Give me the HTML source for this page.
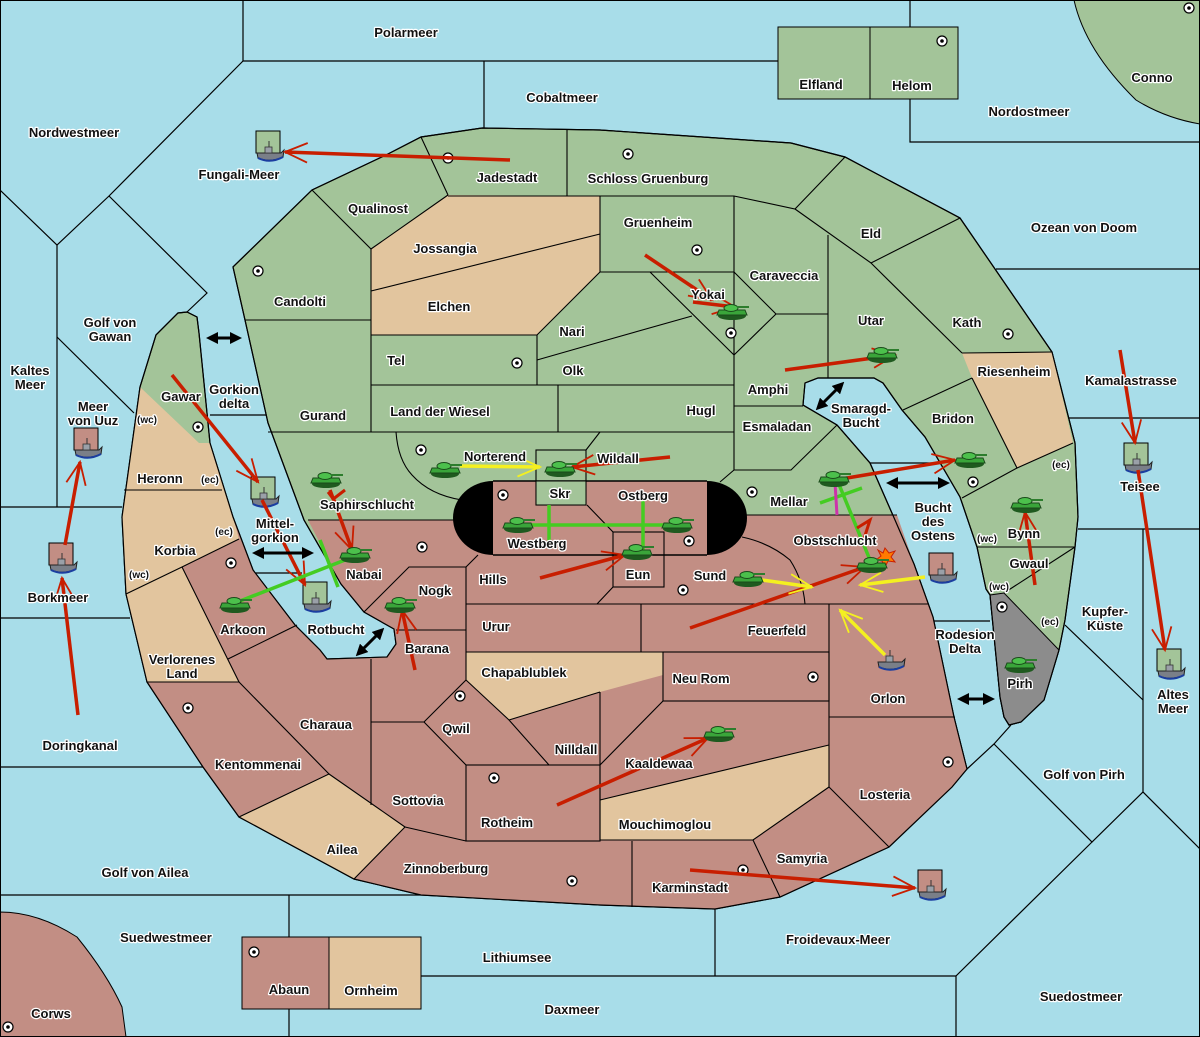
<!DOCTYPE html>
<html><head><meta charset="utf-8"><style>
html,body{margin:0;padding:0;background:#a8dde9;}
svg{display:block}
text{font-family:"Liberation Sans",sans-serif;font-weight:bold;font-size:13px;fill:#111;text-anchor:middle;paint-order:stroke;stroke:#fff;stroke-width:2.5px;stroke-linejoin:round}
text.s{font-size:10px}
</style></head><body>
<svg width="1200" height="1037" viewBox="0 0 1200 1037" xmlns="http://www.w3.org/2000/svg">
<defs>
<marker id="ar" viewBox="0 0 20 20" refX="18" refY="10" markerWidth="14" markerHeight="14" orient="auto" markerUnits="userSpaceOnUse" overflow="visible">
<path d="M-14,-4 L18,10 L-14,24" fill="none" stroke="#c81e00" stroke-width="2.6"/></marker>
<marker id="ay" viewBox="0 0 20 20" refX="18" refY="10" markerWidth="14" markerHeight="14" orient="auto" markerUnits="userSpaceOnUse" overflow="visible">
<path d="M-14,-4 L18,10 L-14,24" fill="none" stroke="#f4f020" stroke-width="2.6"/></marker>
<marker id="ab" viewBox="0 0 10 10" refX="5" refY="5" markerWidth="12" markerHeight="12" orient="auto-start-reverse" markerUnits="userSpaceOnUse"><path d="M0,0 L10,5 L0,10z" fill="#000"/></marker>
<g id="tk"><ellipse cx="0" cy="5" rx="14" ry="4" fill="#1f5a1f"/><path d="M-13,-1 L13,-1 L15,4 L-15,4z" fill="#3aa53a" stroke="#1a4a1a" stroke-width="1"/><ellipse cx="-1" cy="-3" rx="7" ry="3.5" fill="#4cc04c" stroke="#1a4a1a" stroke-width="1"/><rect x="5" y="-5" width="12" height="2" fill="#2d7d2d"/></g>
<g id="fl"><path d="M-13,0 L11,0 L14,-3 L13,4 Q0,10 -12,5z" fill="#7a7f88" stroke="#222" stroke-width="1"/><rect x="-5" y="-6" width="7" height="6" fill="#9aa0a8" stroke="#333" stroke-width="0.8"/><line x1="-1" y1="-12" x2="-1" y2="-6" stroke="#333"/><path d="M-12,5 Q0,11 13,4" stroke="#1b3ea0" stroke-width="2" fill="none"/></g>
<g id="sc"><circle r="5" fill="#fff" stroke="#000" stroke-width="1.2"/><circle r="1.8" fill="#000"/></g>
</defs>

<path d="M1074,0 Q1085,50 1136,100 Q1165,118 1200,124 L1200,0z" fill="#a3c499" stroke="#000"/>
<path d="M0,912 Q38,912 77,937 Q107,974 122,1007 L126,1037 L0,1037z" fill="#c28e84" stroke="#000"/>
<rect x="778" y="27" width="92" height="72" fill="#a3c499" stroke="#000"/>
<rect x="870" y="27" width="88" height="72" fill="#a3c499" stroke="#000"/>
<rect x="242" y="937" width="87" height="72" fill="#c28e84" stroke="#000"/>
<rect x="329" y="937" width="92" height="72" fill="#e2c59e" stroke="#000"/>

<g stroke="#000" stroke-width="1.2" fill="none">
<polyline points="243,0 243,61 778,61"/>
<line x1="910" y1="0" x2="910" y2="27"/><polyline points="910,99 910,142 1200,142"/>
<line x1="484" y1="61" x2="484" y2="128"/>
<polyline points="243,61 109,196 57,245 0,190"/>
<polyline points="57,245 57,507"/><polyline points="109,196 207,293 187,312"/>
<line x1="57" y1="337" x2="134" y2="413"/><line x1="0" y1="507" x2="122" y2="507"/>
<line x1="996" y1="269" x2="1200" y2="269"/><line x1="1068" y1="418" x2="1200" y2="418"/>
<line x1="1078" y1="529" x2="1200" y2="529"/><line x1="1143" y1="529" x2="1143" y2="792"/>
<line x1="1065" y1="625" x2="1143" y2="700"/>
<polyline points="1011,725 994,744 967,769"/>
<polyline points="994,744 1092,842 1143,792 1200,849"/>
<polyline points="1092,842 956,976 956,1037"/>
<line x1="600" y1="976" x2="956" y2="976"/><line x1="715" y1="909" x2="715" y2="976"/>
<line x1="0" y1="618" x2="130" y2="618"/><line x1="0" y1="767" x2="203" y2="767"/>
<line x1="0" y1="895" x2="421" y2="895"/>
<line x1="289" y1="895" x2="289" y2="937"/><line x1="289" y1="1009" x2="289" y2="1037"/>
<line x1="421" y1="976" x2="600" y2="976"/>
<line x1="210" y1="415" x2="266" y2="415"/><line x1="254" y1="573" x2="302" y2="573"/>
<line x1="870" y1="463" x2="960" y2="463"/><line x1="933" y1="621" x2="990" y2="621"/>
</g>

<path d="M140,387 L122,517 L126,594 L147,682 L203,767 L239,817 L354,879 L421,895 L600,905 L715,909 L780,897 L889,847 L952,787 L967,769 L954,717 L933,617 L914,564 L895,520 L870,463 L837,425 L803,405 L805,383 L818,378 L874,378 L883,383 L902,410 L925,437 L960,497 L977,547 L986,589 L990,595 L1000,697 L1004,717 L1009,725 L1021,722 L1044,700 L1059,650 L1065,620 L1075,547 L1078,517 L1075,443 L1052,352 L960,218 L845,157 L791,143 L600,130 L482,128 L421,137 L386,155 L312,190 L233,267 L245,320 L268,423 L304,520 L341,584 L364,612 L394,629 L396,644 L387,657 L327,659 L320,650 L295,625 L253,570 L233,517 L210,443 L199,333 L197,317 L187,312 L178,313 L156,335z" fill="#a3c499" stroke="#000" stroke-width="1.2"/>

<path d="M125,545 L185,540 L233,517 L253,570 L295,625 L320,650 L327,659 L387,657 L396,644 L394,629 L364,612 L341,584 L308,520 L745,520 L745,515 L897,515 L914,564 L933,617 L954,717 L967,769 L952,787 L889,847 L780,897 L715,909 L600,905 L421,895 L354,879 L239,817 L203,767 L147,682 L126,594z" fill="#c28e84"/>
<rect x="493" y="481" width="214" height="74" fill="#c28e84"/>
<g fill="#e2c59e">
<path d="M140,387 L199,443 L210,443 L233,517 L239,539 L182,567 L239,682 L147,682 L126,594 L122,517z"/>
<path d="M239,817 L329,774 L405,827 L354,879z"/>
<path d="M466,652 L663,652 L663,675 L600,692 L509,720 L466,680z"/>
<path d="M600,800 L829,745 L829,787 L753,840 L600,840z"/>
<path d="M962,353 L1052,352 L1073,443 L1017,468 L972,378z"/>
<path d="M371,249 L448,195 L600,196 L600,272 L537,335 L371,335z"/>
</g>
<path d="M990,595 L1004,593 L1059,650 L1044,700 L1021,722 L1009,725 L1004,717 L1000,697z" fill="#8c8c8c" stroke="#000"/>
<path d="M140,387 L122,517 L126,594 L147,682 L203,767 L239,817 L354,879 L421,895 L600,905 L715,909 L780,897 L889,847 L952,787 L967,769 L954,717 L933,617 L914,564 L895,520 L870,463 L837,425 L803,405 L805,383 L818,378 L874,378 L883,383 L902,410 L925,437 L960,497 L977,547 L986,589 L990,595 L1000,697 L1004,717 L1009,725 L1021,722 L1044,700 L1059,650 L1065,620 L1075,547 L1078,517 L1075,443 L1052,352 L960,218 L845,157 L791,143 L600,130 L482,128 L421,137 L386,155 L312,190 L233,267 L245,320 L268,423 L304,520 L341,584 L364,612 L394,629 L396,644 L387,657 L327,659 L320,650 L295,625 L253,570 L233,517 L210,443 L199,333 L197,317 L187,312 L178,313 L156,335z" fill="none" stroke="#000" stroke-width="1.2"/>

<g stroke="#000" stroke-width="1.1" fill="none">
<line x1="421" y1="137" x2="448" y2="195"/><line x1="567" y1="130" x2="567" y2="196"/>
<polyline points="448,196 734,196 795,209 845,157"/>
<polyline points="312,190 371,249 448,195"/>
<line x1="371" y1="249" x2="371" y2="432"/><line x1="245" y1="320" x2="371" y2="320"/>
<line x1="371" y1="291" x2="600" y2="234"/>
<polyline points="371,335 537,335 600,272"/>
<polyline points="600,196 600,272 734,272"/>
<polyline points="537,360 600,342 692,316"/>
<line x1="537" y1="335" x2="537" y2="385"/><line x1="371" y1="385" x2="734" y2="385"/>
<line x1="268" y1="432" x2="734" y2="432"/><line x1="558" y1="385" x2="558" y2="432"/>
<line x1="734" y1="196" x2="734" y2="470"/>
<polyline points="650,272 734,355 776,314 734,272"/>
<line x1="776" y1="314" x2="828" y2="314"/><line x1="828" y1="235" x2="828" y2="378"/>
<polyline points="795,209 871,263 960,218"/><line x1="871" y1="263" x2="962" y2="353"/>
<polyline points="962,353 1052,352"/><polyline points="972,378 1017,468 1073,443"/>
<line x1="972" y1="378" x2="903" y2="410"/><line x1="1017" y1="468" x2="962" y2="498"/>
<line x1="734" y1="406" x2="803" y2="406"/><polyline points="720,482 734,470 791,470 837,425"/>
<path d="M396,432 Q398,460 412,475 Q430,495 462,500"/>
<rect x="536" y="450" width="50" height="55" fill="#a3c499"/>
<line x1="600" y1="432" x2="586" y2="450"/>
<line x1="308" y1="520" x2="455" y2="520"/><line x1="745" y1="515" x2="897" y2="515"/>
<line x1="1075" y1="547" x2="977" y2="547"/>
<line x1="124" y1="490" x2="222" y2="490"/>
<polyline points="239,539 182,567 126,594"/>
<polyline points="182,567 239,682 147,682"/>
<polyline points="228,659 297,625"/>
<polyline points="239,682 329,774 239,817"/>
<polyline points="329,774 405,827 354,879"/>
<line x1="371" y1="659" x2="371" y2="805"/>
<polyline points="405,827 466,841 600,841"/>
<rect x="466" y="765" width="134" height="76"/>
<polyline points="371,722 424,722 466,680"/><line x1="424" y1="722" x2="466" y2="765"/>
<polyline points="466,680 509,720 549,765"/>
<polyline points="509,720 600,692"/>
<line x1="466" y1="567" x2="466" y2="680"/>
<polyline points="364,612 409,567 466,567 478,555"/>
<line x1="396" y1="630" x2="466" y2="630"/>
<line x1="466" y1="604" x2="929" y2="604"/><line x1="466" y1="652" x2="663" y2="652"/>
<line x1="641" y1="604" x2="641" y2="652"/>
<rect x="663" y="652" width="166" height="49"/>
<line x1="663" y1="701" x2="600" y2="765"/>
<line x1="829" y1="604" x2="829" y2="787"/>
<line x1="600" y1="692" x2="600" y2="840"/>
<polyline points="600,800 829,745"/><polyline points="829,787 753,840 600,840"/>
<line x1="829" y1="717" x2="955" y2="717"/><line x1="829" y1="787" x2="889" y2="847"/>
<line x1="753" y1="840" x2="780" y2="897"/><line x1="632" y1="841" x2="632" y2="907"/>
<path d="M742,537 Q770,543 790,560 Q803,580 805,604"/>
<line x1="587" y1="505" x2="613" y2="532"/>
<rect x="613" y="532" width="51" height="55"/>
<line x1="613" y1="587" x2="597" y2="604"/>
<line x1="664" y1="555" x2="707" y2="555"/>
<line x1="1004" y1="593" x2="1075" y2="547"/>
</g>
<path d="M493,481 L493,555 A40,37 0 0 1 493,481z" fill="#000"/>
<path d="M707,481 L707,555 A40,37 0 0 0 707,481z" fill="#000"/>
<line x1="493" y1="481" x2="707" y2="481" stroke="#000" stroke-width="1.5"/>
<line x1="493" y1="555" x2="707" y2="555" stroke="#000" stroke-width="1.5"/>
<rect x="536" y="481" width="50" height="24" fill="#a3c499" stroke="#000"/>

<g>
<use href="#sc" x="448" y="158"/><use href="#sc" x="628" y="154"/><use href="#sc" x="942" y="41"/>
<use href="#sc" x="697" y="250"/><use href="#sc" x="731" y="333"/><use href="#sc" x="258" y="271"/>
<use href="#sc" x="517" y="363"/><use href="#sc" x="1008" y="334"/><use href="#sc" x="198" y="427"/>
<use href="#sc" x="421" y="450"/><use href="#sc" x="503" y="495"/><use href="#sc" x="752" y="492"/>
<use href="#sc" x="973" y="482"/><use href="#sc" x="689" y="541"/><use href="#sc" x="422" y="547"/>
<use href="#sc" x="231" y="563"/><use href="#sc" x="683" y="590"/><use href="#sc" x="1002" y="607"/>
<use href="#sc" x="813" y="677"/><use href="#sc" x="460" y="696"/><use href="#sc" x="188" y="708"/>
<use href="#sc" x="494" y="778"/><use href="#sc" x="948" y="762"/><use href="#sc" x="743" y="870"/>
<use href="#sc" x="572" y="881"/><use href="#sc" x="254" y="952"/><use href="#sc" x="8" y="1027"/>
<use href="#sc" x="1189" y="8"/>
</g>

<g stroke="#000">
<rect x="256" y="131" width="24" height="22" fill="#a3c499"/>
<rect x="251" y="477" width="24" height="22" fill="#a3c499"/>
<rect x="74" y="428" width="24" height="22" fill="#c28e84"/>
<rect x="49" y="543" width="24" height="22" fill="#c28e84"/>
<rect x="303" y="582" width="24" height="22" fill="#a3c499"/>
<rect x="1124" y="443" width="24" height="22" fill="#a3c499"/>
<rect x="1157" y="649" width="24" height="22" fill="#a3c499"/>
<rect x="929" y="553" width="24" height="22" fill="#c28e84"/>
<rect x="918" y="870" width="24" height="22" fill="#c28e84"/>
</g>
<g>
<use href="#fl" x="270" y="153"/><use href="#fl" x="265" y="499"/><use href="#fl" x="88" y="450"/>
<use href="#fl" x="63" y="565"/><use href="#fl" x="317" y="604"/><use href="#fl" x="1138" y="465"/>
<use href="#fl" x="1171" y="671"/><use href="#fl" x="943" y="575"/><use href="#fl" x="932" y="892"/>
<use href="#fl" x="891" y="662"/>
</g>

<g stroke="#c81e00" stroke-width="3.5" fill="none" marker-end="url(#ar)">
<line x1="510" y1="160" x2="285" y2="152"/>
<line x1="645" y1="255" x2="712" y2="300"/>
<line x1="693" y1="302" x2="735" y2="307"/>
<line x1="785" y1="370" x2="895" y2="355"/>
<line x1="1120" y1="350" x2="1135" y2="443"/>
<line x1="1138" y1="470" x2="1165" y2="650"/>
<line x1="835" y1="480" x2="955" y2="460"/>
<line x1="1035" y1="585" x2="1025" y2="512"/>
<line x1="670" y1="457" x2="572" y2="467"/>
<line x1="172" y1="375" x2="258" y2="482"/>
<line x1="262" y1="500" x2="305" y2="585"/>
<line x1="330" y1="490" x2="352" y2="550"/>
<line x1="415" y1="670" x2="402" y2="610"/>
<line x1="540" y1="578" x2="625" y2="555"/>
<line x1="690" y1="628" x2="865" y2="567"/>
<line x1="557" y1="805" x2="708" y2="738"/>
<line x1="690" y1="870" x2="915" y2="888"/>
<line x1="78" y1="715" x2="62" y2="578"/>
<line x1="65" y1="545" x2="80" y2="462"/>
</g>
<g stroke="#f4f020" stroke-width="3.5" fill="none" marker-end="url(#ay)">
<line x1="460" y1="466" x2="540" y2="467"/>
<line x1="762" y1="580" x2="812" y2="587"/>
<line x1="925" y1="577" x2="860" y2="585"/>
<line x1="885" y1="655" x2="840" y2="610"/>
</g>
<g stroke="#44cc22" stroke-width="3.5" fill="none">
<line x1="520" y1="525" x2="675" y2="525"/>
<line x1="549" y1="505" x2="549" y2="548"/>
<line x1="643" y1="500" x2="643" y2="550"/>
<line x1="235" y1="603" x2="345" y2="560"/>
<line x1="320" y1="540" x2="338" y2="587"/>
<line x1="838" y1="482" x2="870" y2="560"/>
<line x1="820" y1="503" x2="862" y2="488"/>
</g>
<line x1="835" y1="483" x2="837" y2="515" stroke="#cc33aa" stroke-width="3"/>
<path d="M857,528 L870,520 L862,545" stroke="#c81e00" stroke-width="3" fill="none"/>
<path d="M332,500 L345,490 M328,492 L340,508" stroke="#c81e00" stroke-width="3"/>
<polygon points="885,548 889,553 895,551 891,557 895,562 888,561 885,567 882,561 876,560 881,556 878,550 883,553" fill="#ff7a00" stroke="#c81e00" stroke-width="1"/>

<g stroke="#000" stroke-width="3" marker-start="url(#ab)" marker-end="url(#ab)">
<line x1="212" y1="338" x2="236" y2="338"/>
<line x1="258" y1="553" x2="308" y2="553"/>
<line x1="360" y1="652" x2="380" y2="632"/>
<line x1="820" y1="406" x2="840" y2="386"/>
<line x1="892" y1="483" x2="944" y2="483"/>
<line x1="963" y1="699" x2="989" y2="699"/>
</g>

<g>
<use href="#tk" x="732" y="311"/><use href="#tk" x="882" y="354"/><use href="#tk" x="970" y="459"/>
<use href="#tk" x="1026" y="504"/><use href="#tk" x="445" y="469"/><use href="#tk" x="560" y="468"/>
<use href="#tk" x="326" y="479"/><use href="#tk" x="355" y="554"/><use href="#tk" x="518" y="524"/>
<use href="#tk" x="677" y="524"/><use href="#tk" x="637" y="551"/><use href="#tk" x="748" y="578"/>
<use href="#tk" x="872" y="564"/><use href="#tk" x="834" y="478"/><use href="#tk" x="235" y="604"/>
<use href="#tk" x="400" y="604"/><use href="#tk" x="719" y="733"/><use href="#tk" x="1020" y="664"/>
</g>

<g>
<text x="406" y="37">Polarmeer</text><text x="562" y="102">Cobaltmeer</text>
<text x="821" y="89">Elfland</text><text x="912" y="90">Helom</text><text x="1152" y="82">Conno</text>
<text x="1029" y="116">Nordostmeer</text><text x="74" y="137">Nordwestmeer</text>
<text x="239" y="179">Fungali-Meer</text><text x="507" y="182">Jadestadt</text>
<text x="648" y="183">Schloss Gruenburg</text><text x="378" y="213">Qualinost</text>
<text x="658" y="227">Gruenheim</text><text x="871" y="238">Eld</text><text x="1084" y="232">Ozean von Doom</text>
<text x="445" y="253">Jossangia</text><text x="784" y="280">Caraveccia</text><text x="300" y="306">Candolti</text>
<text x="449" y="311">Elchen</text><text x="708" y="299">Yokai</text><text x="572" y="336">Nari</text>
<text x="871" y="325">Utar</text><text x="967" y="327">Kath</text>
<text x="110" y="327">Golf von</text><text x="110" y="341">Gawan</text>
<text x="396" y="365">Tel</text><text x="573" y="375">Olk</text>
<text x="30" y="375">Kaltes</text><text x="30" y="389">Meer</text>
<text x="1014" y="376">Riesenheim</text><text x="1131" y="385">Kamalastrasse</text>
<text x="768" y="394">Amphi</text><text x="234" y="394">Gorkion</text><text x="234" y="408">delta</text>
<text x="181" y="401">Gawar</text><text x="93" y="411">Meer</text><text x="93" y="425">von Uuz</text>
<text x="861" y="413">Smaragd-</text><text x="861" y="427">Bucht</text>
<text x="323" y="420">Gurand</text><text x="440" y="416">Land der Wiesel</text><text x="701" y="415">Hugl</text>
<text x="953" y="423">Bridon</text><text class="s" x="147" y="423">(wc)</text>
<text x="777" y="431">Esmaladan</text><text x="495" y="461">Norterend</text><text x="618" y="463">Wildall</text>
<text class="s" x="1061" y="468">(ec)</text><text x="160" y="483">Heronn</text><text class="s" x="210" y="483">(ec)</text>
<text x="1140" y="491">Teisee</text><text x="560" y="498">Skr</text><text x="643" y="500">Ostberg</text>
<text x="789" y="506">Mellar</text><text x="367" y="509">Saphirschlucht</text>
<text x="933" y="512">Bucht</text><text x="933" y="526">des</text><text x="933" y="540">Ostens</text>
<text x="1024" y="538">Bynn</text><text class="s" x="987" y="542">(wc)</text>
<text x="275" y="528">Mittel-</text><text x="275" y="542">gorkion</text><text class="s" x="224" y="535">(ec)</text>
<text x="537" y="548">Westberg</text><text x="175" y="555">Korbia</text><text x="835" y="545">Obstschlucht</text>
<text class="s" x="139" y="578">(wc)</text><text x="364" y="579">Nabai</text><text x="638" y="579">Eun</text>
<text x="493" y="584">Hills</text><text x="710" y="580">Sund</text><text x="1029" y="568">Gwaul</text>
<text x="435" y="595">Nogk</text><text x="58" y="602">Borkmeer</text><text class="s" x="999" y="590">(wc)</text>
<text x="1105" y="616">Kupfer-</text><text x="1105" y="630">Küste</text>
<text x="496" y="631">Urur</text><text class="s" x="1050" y="625">(ec)</text><text x="777" y="635">Feuerfeld</text>
<text x="243" y="634">Arkoon</text><text x="336" y="634">Rotbucht</text>
<text x="965" y="639">Rodesion</text><text x="965" y="653">Delta</text>
<text x="427" y="653">Barana</text><text x="182" y="664">Verlorenes</text><text x="182" y="678">Land</text>
<text x="524" y="677">Chapablublek</text><text x="701" y="683">Neu Rom</text><text x="1020" y="688">Pirh</text>
<text x="888" y="703">Orlon</text><text x="1173" y="699">Altes</text><text x="1173" y="713">Meer</text>
<text x="326" y="729">Charaua</text><text x="456" y="733">Qwil</text><text x="80" y="750">Doringkanal</text>
<text x="576" y="754">Nilldall</text><text x="659" y="768">Kaaldewaa</text><text x="258" y="769">Kentommenai</text>
<text x="1084" y="779">Golf von Pirh</text><text x="885" y="799">Losteria</text><text x="418" y="805">Sottovia</text>
<text x="507" y="827">Rotheim</text><text x="665" y="829">Mouchimoglou</text><text x="342" y="854">Ailea</text>
<text x="802" y="863">Samyria</text><text x="446" y="873">Zinnoberburg</text><text x="145" y="877">Golf von Ailea</text>
<text x="690" y="892">Karminstadt</text><text x="166" y="942">Suedwestmeer</text><text x="838" y="944">Froidevaux-Meer</text>
<text x="517" y="962">Lithiumsee</text><text x="289" y="994">Abaun</text><text x="371" y="995">Ornheim</text>
<text x="1081" y="1001">Suedostmeer</text><text x="572" y="1014">Daxmeer</text><text x="51" y="1018">Corws</text>
</g>
<rect x="0.5" y="0.5" width="1199" height="1036" fill="none" stroke="#000"/>
</svg>
</body></html>
